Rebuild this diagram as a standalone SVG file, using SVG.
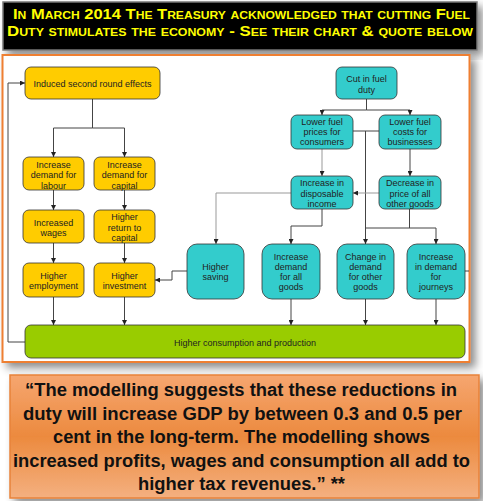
<svg xmlns="http://www.w3.org/2000/svg" width="483" height="501" viewBox="0 0 483 501">
<defs>
<style>
.hdr{font-family:"Liberation Sans",Arial,sans-serif;font-weight:bold;font-variant:small-caps;font-size:15px;fill:#FFFF00;}
.nt{font-family:"Liberation Sans",Arial,sans-serif;font-size:9px;fill:#222;text-anchor:middle;}
.q{font-family:"Liberation Sans",Arial,sans-serif;font-weight:bold;font-size:17.5px;fill:#111;text-anchor:middle;}
.y{fill:#FFCC00;stroke:#333;stroke-width:0.8;}
.t{fill:#33CCCC;stroke:#333;stroke-width:0.8;}
.g{fill:#99CC00;stroke:#333;stroke-width:0.8;}
.c{fill:none;stroke:#444;stroke-width:1;}
.cl{fill:none;stroke:#999;stroke-width:1;}
</style>
<marker id="ah" viewBox="0 0 6 6" refX="6" refY="3" markerWidth="5" markerHeight="5" orient="auto" markerUnits="userSpaceOnUse">
<path d="M0 0 L6 3 L0 6 Z" fill="#222"/>
</marker>
<filter id="sh" x="-10%" y="-10%" width="125%" height="130%">
<feDropShadow dx="5" dy="5" stdDeviation="4" flood-color="#000" flood-opacity="0.45"/>
</filter>
<linearGradient id="og" x1="0" y1="0" x2="0" y2="1">
<stop offset="0" stop-color="#F6A670"/>
<stop offset="0.5" stop-color="#EC8A3E"/>
<stop offset="1" stop-color="#F4B080"/>
</linearGradient>
</defs>
<rect width="483" height="501" fill="#fff"/>

<g id="header">
<rect x="3" y="2" width="474" height="48" fill="#000" stroke="#777" stroke-width="1.5" filter="url(#sh)"/>
<text class="hdr" x="13" y="18.5" textLength="457" lengthAdjust="spacingAndGlyphs">In March 2014 The Treasury acknowledged that cutting Fuel</text>
<text class="hdr" x="7" y="36" textLength="466" lengthAdjust="spacingAndGlyphs">Duty stimulates the economy -  See their chart &amp; quote below</text>
</g>

<g id="panel">
<rect x="2.5" y="55" width="467" height="307" fill="#fff" stroke="#EE7F33" stroke-width="2" filter="url(#sh)"/>
</g>

<g id="connectors">
<path class="c" d="M92.5 99 V128 H53.5 V157" marker-end="url(#ah)"/>
<path class="c" d="M92.5 128 H124.5 V157" marker-end="url(#ah)"/>
<path class="c" d="M53.5 190 V210" marker-end="url(#ah)"/>
<path class="c" d="M124.5 190 V210" marker-end="url(#ah)"/>
<path class="c" d="M53.5 243 V263" marker-end="url(#ah)"/>
<path class="c" d="M124.5 243 V263" marker-end="url(#ah)"/>
<path class="c" d="M53.5 297 V325" marker-end="url(#ah)"/>
<path class="c" d="M124.5 297 V325" marker-end="url(#ah)"/>
<path class="c" d="M187 271 H172 V280 H155" marker-end="url(#ah)"/>
<path class="c" d="M25 342 H8 V83 H25" marker-end="url(#ah)"/>
<path class="c" d="M366.5 99 V110 H322 V115" marker-end="url(#ah)"/>
<path class="c" d="M366.5 110 H410 V115" marker-end="url(#ah)"/>
<path class="c" d="M353 131 H379"/>
<path class="c" d="M365.5 131 V244" marker-end="url(#ah)"/>
<path class="cl" d="M322 149 V176" marker-end="url(#ah)"/>
<path class="c" d="M410 149 V176" marker-end="url(#ah)"/>
<path class="cl" d="M379 193 H353" marker-end="url(#ah)"/>
<path class="cl" d="M291 193 H216 V244" marker-end="url(#ah)"/>
<path class="c" d="M322 209 V226 H291 V244" marker-end="url(#ah)"/>
<path class="c" d="M409.5 209 V228"/>
<path class="c" d="M365.5 228 H436 V244" marker-end="url(#ah)"/>
<path class="c" d="M291 299 V325" marker-end="url(#ah)"/>
<path class="c" d="M365.5 299 V325" marker-end="url(#ah)"/>
<path class="c" d="M436 299 V325" marker-end="url(#ah)"/>
<path class="c" d="M465 271 H469"/>
</g>

<g id="induced">
<rect class="y" x="25" y="67" width="135" height="32" rx="6"/>
<text class="nt" x="92.5" y="86.5">Induced second round effects</text>
</g>
<g id="labour">
<rect class="y" x="23" y="157" width="61" height="33" rx="6"/>
<text class="nt" x="53.5" y="167.5">Increase</text>
<text class="nt" x="53.5" y="178">demand for</text>
<text class="nt" x="53.5" y="188.5">labour</text>
</g>
<g id="capital">
<rect class="y" x="94" y="157" width="61" height="33" rx="6"/>
<text class="nt" x="124.5" y="167.5">Increase</text>
<text class="nt" x="124.5" y="178">demand for</text>
<text class="nt" x="124.5" y="188.5">capital</text>
</g>
<g id="wages">
<rect class="y" x="23" y="210" width="61" height="33" rx="6"/>
<text class="nt" x="53.5" y="226">Increased</text>
<text class="nt" x="53.5" y="236">wages</text>
</g>
<g id="return">
<rect class="y" x="94" y="210" width="61" height="33" rx="6"/>
<text class="nt" x="124.5" y="220">Higher</text>
<text class="nt" x="124.5" y="230.5">return to</text>
<text class="nt" x="124.5" y="241">capital</text>
</g>
<g id="employment">
<rect class="y" x="23" y="263" width="61" height="34" rx="6"/>
<text class="nt" x="53.5" y="278.5">Higher</text>
<text class="nt" x="53.5" y="288.5">employment</text>
</g>
<g id="investment">
<rect class="y" x="94" y="263" width="61" height="34" rx="6"/>
<text class="nt" x="124.5" y="278.5">Higher</text>
<text class="nt" x="124.5" y="288.5">investment</text>
</g>
<g id="saving">
<rect class="t" x="187" y="244" width="57" height="55" rx="10"/>
<text class="nt" x="215.5" y="270">Higher</text>
<text class="nt" x="215.5" y="280">saving</text>
</g>
<g id="cut">
<rect class="t" x="336" y="67" width="61" height="32" rx="6"/>
<text class="nt" x="366.5" y="81.5">Cut in fuel</text>
<text class="nt" x="366.5" y="92.5">duty</text>
</g>
<g id="consumers">
<rect class="t" x="291" y="115" width="62" height="34" rx="6"/>
<text class="nt" x="322" y="125">Lower fuel</text>
<text class="nt" x="322" y="135">prices for</text>
<text class="nt" x="322" y="145">consumers</text>
</g>
<g id="businesses">
<rect class="t" x="379" y="115" width="62" height="34" rx="6"/>
<text class="nt" x="410" y="125">Lower fuel</text>
<text class="nt" x="410" y="135">costs for</text>
<text class="nt" x="410" y="145">businesses</text>
</g>
<g id="disposable">
<rect class="t" x="291" y="176" width="62" height="33" rx="6"/>
<text class="nt" x="322" y="186">Increase in</text>
<text class="nt" x="322" y="196.5">disposable</text>
<text class="nt" x="322" y="206.5">income</text>
</g>
<g id="decrease">
<rect class="t" x="379" y="176" width="62" height="33" rx="6"/>
<text class="nt" x="410" y="186">Decrease in</text>
<text class="nt" x="410" y="196.5">price of all</text>
<text class="nt" x="410" y="206.5">other goods</text>
</g>
<g id="allgoods">
<rect class="t" x="262" y="244" width="58" height="55" rx="10"/>
<text class="nt" x="291" y="260">Increase</text>
<text class="nt" x="291" y="270">demand</text>
<text class="nt" x="291" y="280">for all</text>
<text class="nt" x="291" y="290">goods</text>
</g>
<g id="othergoods">
<rect class="t" x="337" y="244" width="57" height="55" rx="10"/>
<text class="nt" x="365.5" y="260">Change in</text>
<text class="nt" x="365.5" y="270">demand</text>
<text class="nt" x="365.5" y="280">for other</text>
<text class="nt" x="365.5" y="290">goods</text>
</g>
<g id="journeys">
<rect class="t" x="407" y="244" width="58" height="55" rx="10"/>
<text class="nt" x="436" y="260">Increase</text>
<text class="nt" x="436" y="270">in demand</text>
<text class="nt" x="436" y="280">for</text>
<text class="nt" x="436" y="290">journeys</text>
</g>
<g id="consumption">
<rect class="g" x="25" y="325" width="440" height="33" rx="6"/>
<text class="nt" x="245" y="345.5">Higher consumption and production</text>
</g>

<g id="quote">
<rect x="10" y="375" width="469" height="123" fill="url(#og)" stroke="#E8823A" stroke-width="1.5" filter="url(#sh)"/>
<text class="q" x="241" y="396" textLength="432" lengthAdjust="spacingAndGlyphs">“The modelling suggests that these reductions in</text>
<text class="q" x="242.5" y="419.5" textLength="439" lengthAdjust="spacingAndGlyphs">duty will increase GDP by between 0.3 and 0.5 per</text>
<text class="q" x="241.5" y="443" textLength="377" lengthAdjust="spacingAndGlyphs">cent in the long-term. The modelling shows</text>
<text class="q" x="241.5" y="466.5" textLength="457" lengthAdjust="spacingAndGlyphs">increased profits, wages and consumption all add to</text>
<text class="q" x="241.5" y="490" textLength="207" lengthAdjust="spacingAndGlyphs">higher tax revenues.” **</text>
</g>
</svg>
